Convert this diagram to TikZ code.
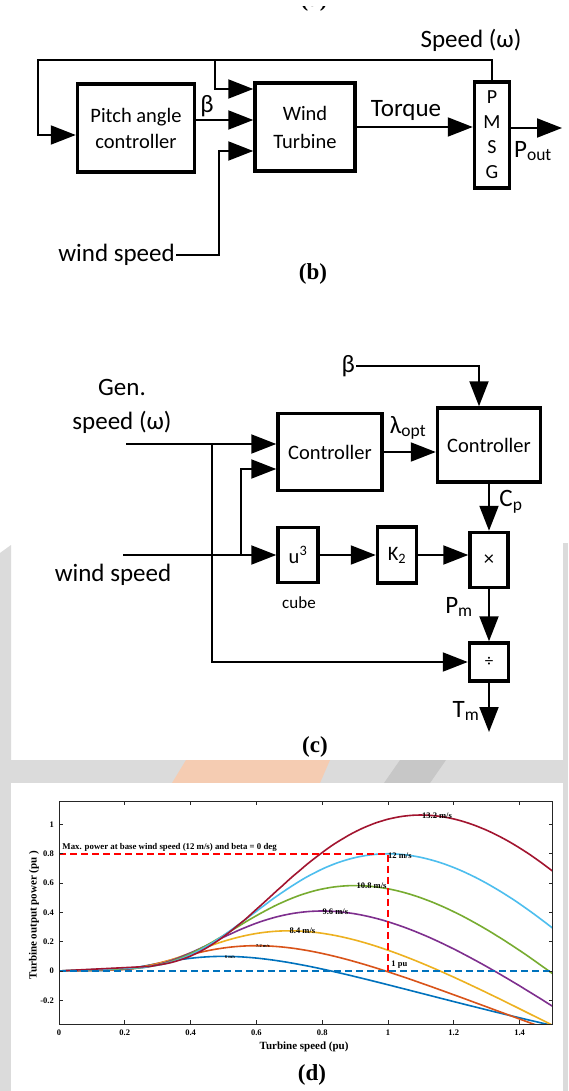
\documentclass[tikz,border=0pt]{standalone}
\usepackage{fontspec}
\setmainfont{Carlito}
\newfontfamily\timesfont{Liberation Serif}
\usetikzlibrary{arrows.meta,positioning}
\definecolor{panelgray}{rgb}{0.86,0.86,0.86}
\definecolor{wmpeach}{rgb}{0.96,0.80,0.70}
\definecolor{mlblue}{rgb}{0,0.447,0.741}
\definecolor{mlorange}{rgb}{0.85,0.325,0.098}
\definecolor{mlyellow}{rgb}{0.929,0.694,0.125}
\definecolor{mlpurple}{rgb}{0.494,0.184,0.556}
\definecolor{mlgreen}{rgb}{0.466,0.674,0.188}
\definecolor{mlcyan}{rgb}{0.301,0.745,0.933}
\definecolor{mlred}{rgb}{0.635,0.078,0.184}
\newcommand{\lblfont}{\fontsize{25}{30}\selectfont}
\newcommand{\boxfont}{\fontsize{20.5}{26}\selectfont}
\newcommand{\capfont}{\timesfont\bfseries\fontsize{23}{26}\selectfont}
\newcommand{\plotfont}{\timesfont\bfseries\fontsize{8.5}{9}\selectfont}
\tikzset{
  blk/.style={
    draw,
    line width=3.5pt,
    align=center,
    inner sep=0pt,
    font=\boxfont
  },
  lbl/.style={
    inner sep=1pt,
    font=\lblfont
  },
  caption/.style={
    inner sep=0pt,
    font=\capfont
  },
  arrow/.style={
    -{Triangle[length=25pt,width=19pt]},
    line width=2pt
  },
  curve/.style={
    line width=1.6pt
  },
  refline/.style={
    line width=1.8pt,
    dash pattern=on 7pt off 4pt
  },
  plotlbl/.style={
    inner sep=0pt,
    font=\plotfont
  }
}

\begin{document}
\begin{tikzpicture}[x=1pt,y=-1pt,node distance=56pt]
\useasboundingbox (0,0) rectangle (568,1091);
\fill[white] (0,0) rectangle (568,1091);
% background of the lower panel
\fill[panelgray] (0,553) -- (11,545) -- (11,1091) -- (0,1091) -- cycle;
\fill[panelgray] (563,543) rectangle (568,1091);
\fill[panelgray] (0,760) rectangle (568,783);
\fill[wmpeach] (172,783) -- (186,760) -- (330,760) -- (320,783) -- cycle;
\fill[black!22] (384,783) -- (400,760) -- (446,760) -- (430,783) -- cycle;
\fill[white] (11,783) rectangle (562,1091);

\begin{scope}
\clip (0,7) rectangle (568,16);
\node[caption] (capa) at (314,1) {(a)};
\end{scope}

% (b)
\node[blk,minimum width=117pt,minimum height=88pt] (pitch) at (136,128) {Pitch angle\\controller};
\node[blk,minimum width=100pt,minimum height=88pt,font=\fontsize{20.5}{28}\selectfont] (wt) at (305,127) {Wind\\Turbine};
\node[blk,minimum width=35pt,minimum height=106pt,font=\fontsize{20}{25}\selectfont] (pmsg) at (492,135) {P\\M\\S\\G};
\node[lbl] (spd) at (471,40) {Speed (ω)};
\node[lbl] (beta) at (207,106) {β};
\node[lbl] (torq) at (406,110) {Torque};
\node[lbl] (poutl) at (533,151) {P\textsubscript{out}};
\node[lbl,anchor=east] (wsb) at (176,255) {wind speed};
\node[caption] (capb) at (313,274) {(b)};

\coordinate (fb) at (38,60);
\coordinate (br) at (215,60);
\coordinate (wsk) at (219,151);
\coordinate (bo) at ([yshift=8pt]pitch.east);
\coordinate (pout) at (562,128);
\draw[arrow] (pmsg.north) |- (fb) |- ([yshift=-7pt]pitch.west);
\draw[arrow] (br) |- ([yshift=38pt]wt.west);
\draw[arrow] (bo) -- (bo -| wt.west);
\draw[arrow] (wsb.east) -| (wsk) -- (wsk -| wt.west);
\draw[arrow] (wt.east) -- (wt.east -| pmsg.west);
\draw[arrow] (pmsg.east |- pout) -- (pout);

% (c)
\node[blk,minimum width=104pt,minimum height=77pt] (ctrlA) at (330,452) {Controller};
\node[blk,minimum width=103pt,minimum height=74pt] (ctrlB) at (489,445) {Controller};
\node[blk,minimum width=40pt,minimum height=55pt] (cube) at (298,555) {u\textsuperscript{3}};
\node[blk,minimum width=39pt,minimum height=56pt,right=of cube] (gain) {K\textsubscript{2}};
\node[blk,minimum width=38pt,minimum height=55pt] (mult) at (489,560) {×};
\node[blk,minimum width=39pt,minimum height=38pt,font=\fontsize{17}{20}\selectfont] (divd) at (489,662) {÷};
\node[lbl,align=center,font=\fontsize{25}{34}\selectfont] (gen) at (122,406) {Gen.\\speed (ω)};
\node[lbl] (wsc) at (113,575) {wind speed};
\node[lbl,font=\fontsize{17}{20}\selectfont] (cubel) at (299,603) {cube};
\node[lbl,anchor=east] (betac) at (356,366) {β};
\node[lbl] (laml) at (408,428) {λ\textsubscript{opt}};
\node[lbl] (cpl) at (511,502) {C\textsubscript{p}};
\node[lbl] (pml) at (459,607) {P\textsubscript{m}};
\node[lbl] (tml) at (466,711) {T\textsubscript{m}};
\node[caption] (capc) at (315,747) {(c)};

\coordinate (gsin) at (126,444);
\coordinate (wsin) at (123,555);
\coordinate (jA) at (212,444);
\coordinate (jB) at (241,555);
\coordinate (tmout) at (489,732);
\draw[arrow] (gsin) -- (gsin -| ctrlA.west);
\draw[arrow] (jA) |- (divd.west);
\draw[arrow] (wsin) -- (cube.west);
\draw[arrow] (jB) |- ([yshift=-17pt]ctrlA.west);
\draw[arrow] (betac.east) -| ([xshift=-10pt]ctrlB.north);
\draw[arrow] (ctrlA.east) -- (ctrlA.east -| ctrlB.west);
\draw[arrow] (ctrlB.south) -- (mult.north);
\draw[arrow] (cube.east) -- (gain.west);
\draw[arrow] (gain.east) -- (gain.east -| mult.west);
\draw[arrow] (mult.south) -- (divd.north);
\draw[arrow] (divd.south) -- (tmout);

% (d) power curves
\begin{scope}[shift={(59,971)},x=329pt,y=146.5pt,
  declare function={
    lam(\w,\s)=97.2*\w/\s;
    ilam(\w,\s)=1/lam(\w,\s)-0.035;
    mlam(\w,\s)=min(ilam(\w,\s),0.5);
    cpw(\w,\s)=0.5176*(116*mlam(\w,\s)-5)*exp(-21*mlam(\w,\s))+0.0068*lam(\w,\s);
    pw(\w,\s)=cpw(\w,\s)/0.48*0.8*(\s/12)^3;
  }]
\begin{scope}
\clip (0,-0.362) rectangle (1.5,1.16);
\foreach \vw/\col in {6/mlblue,7.2/mlorange,8.4/mlyellow,9.6/mlpurple,10.8/mlgreen,12/mlcyan,13.2/mlred}
  \draw[curve,\col] plot[domain=0.01:1.5,samples=90,smooth] (\x,{pw(\x,\vw)});
\draw[refline,red] (0,0.8) -- (1,0.8) -- (1,0);
\draw[refline,mlblue] (0,0) -- (1.5,0);
\end{scope}
\draw[black!85,line width=0.9pt] (0,-0.362) rectangle (1.5,1.16);
\foreach \t in {0,0.2,0.4,0.6,0.8,1,1.2,1.4} {
  \draw[black!85,line width=0.9pt] (\t,-0.362) -- ++(0,4pt) (\t,1.16) -- ++(0,-4pt);
  \node[plotlbl,anchor=north] at ([yshift=-6pt]\t,-0.362) {\t};
}
\foreach \t in {-0.2,0,0.2,0.4,0.6,0.8,1} {
  \draw[black!85,line width=0.9pt] (0,\t) -- ++(4pt,0) (1.5,\t) -- ++(-4pt,0);
  \node[plotlbl,anchor=east] at ([xshift=-5pt]0,\t) {\t};
}
\node[plotlbl] at (1.149,1.06) {13.2 m/s};
\node[plotlbl,anchor=west] at (1.0,0.79) {12 m/s};
\node[plotlbl] at (0.95,0.58) {10.8 m/s};
\node[plotlbl] at (0.84,0.405) {9.6 m/s};
\node[plotlbl] at (0.74,0.272) {8.4 m/s};
\node[plotlbl,font=\timesfont\bfseries\fontsize{4.5}{5}\selectfont] at (0.62,0.17) {7.2 m/s};
\node[plotlbl,font=\timesfont\bfseries\fontsize{4.5}{5}\selectfont] at (0.52,0.097) {6 m/s};
\node[plotlbl,anchor=west] at (1.01,0.045) {1 pu};
\node[plotlbl,anchor=west,font=\timesfont\bfseries\fontsize{8.8}{9}\selectfont] at (0.01,0.845) {Max. power at base wind speed (12 m/s) and beta = 0 deg};
\node[plotlbl,font=\timesfont\bfseries\fontsize{11}{12}\selectfont] at (0.745,-0.519) {Turbine speed (pu)};
\node[plotlbl,rotate=90,font=\timesfont\bfseries\fontsize{11}{12}\selectfont] at (-0.076,0.382) {Turbine output power (pu )};
\end{scope}
\node[caption] (capd) at (312,1075) {(d)};
\end{tikzpicture}
\end{document}
